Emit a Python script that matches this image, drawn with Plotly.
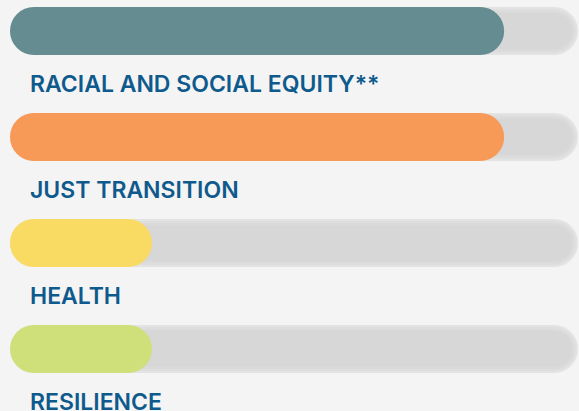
import plotly.graph_objects as go

# Scores for each theme, on a 0-100 scale
categories = ["RACIAL AND SOCIAL EQUITY**", "JUST TRANSITION", "HEALTH", "RESILIENCE"]
scores = [87, 87, 25, 25]
scale_max = 100
fill_colors = ["#648c91", "#f79a58", "#f9da63", "#cfe07a"]

# Canvas geometry (pixels)
W, H = 579, 411
left_px, right_px = 10, 578
px_per_unit = (right_px - left_px) / scale_max
first_row_px, row_step_px, thick_px = 31, 106, 48

x_range = [-left_px / px_per_unit, (W - left_px) / px_per_unit]
y_range = [(H - first_row_px) / row_step_px, -first_row_px / row_step_px]

rows = list(range(len(categories)))


def pill(fig, starts, ends, color, thickness_px):
    """Rounded pill bars: an explicit base rounds both ends."""
    fig.add_trace(go.Bar(
        y=rows[:len(starts)], base=starts,
        x=[e - s for s, e in zip(starts, ends)],
        orientation="h", width=thickness_px / row_step_px,
        hoverinfo="skip", showlegend=False,
        marker=dict(color=color, cornerradius="50%", line=dict(width=0)),
    ))


fig = go.Figure()

# Grey tracks with a soft inset edge built from nested layers
track_layers = [(0, "#e3e3e3"), (2, "#dedede"), (4, "#dadada"), (6, "#d7d7d7")]
for inset_px, col in track_layers:
    inset = inset_px / px_per_unit
    pill(fig, [inset] * len(rows), [scale_max - inset] * len(rows), col,
         thick_px - 2 * inset_px)

# Coloured score fills
fig.add_trace(go.Bar(
    y=rows, base=[0] * len(rows), x=scores, orientation="h",
    width=thick_px / row_step_px, hoverinfo="skip", showlegend=False,
    marker=dict(color=fill_colors, cornerradius="50%", line=dict(width=0)),
))

# Theme labels below each bar
label_x = (28 - left_px) / px_per_unit
for i, name in enumerate(categories):
    fig.add_annotation(x=label_x, y=i + 0.5, xref="x", yref="y", text=name,
                       showarrow=False, xanchor="left", yanchor="middle",
                       font=dict(family="Inter", size=23, weight=600,
                                 color="#0f5a8c"))

fig.update_layout(
    width=W, height=H, margin=dict(l=0, r=0, t=0, b=0),
    paper_bgcolor="#f4f4f4", plot_bgcolor="#f4f4f4",
    barmode="overlay",
    xaxis=dict(range=x_range, visible=False, fixedrange=True),
    yaxis=dict(range=y_range, visible=False, fixedrange=True),
)

fig.write_html("out.html", config={"displayModeBar": False})
